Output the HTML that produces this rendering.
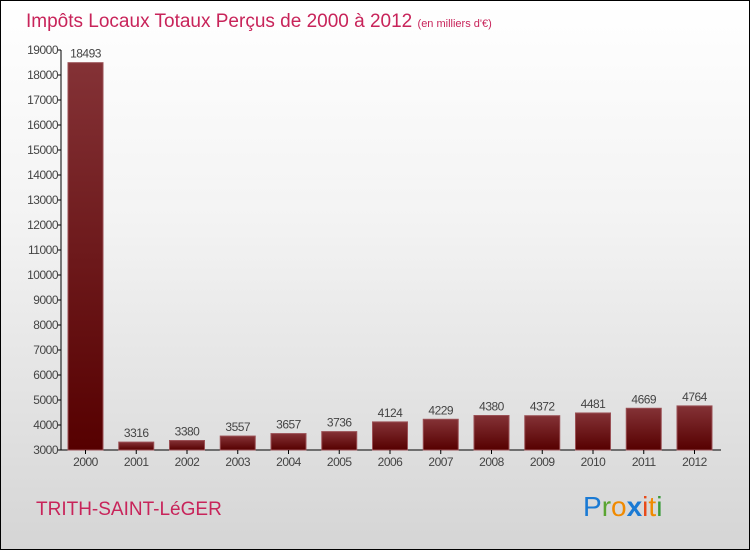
<!DOCTYPE html>
<html><head><meta charset="utf-8"><style>
body{margin:0}
#c{position:relative;width:748px;height:548px;border:1px solid #000;background:linear-gradient(#fff 0%,#f3f3f3 40%,#d5d5d5 100%);overflow:hidden;font-family:"Liberation Sans",sans-serif}
</style></head><body>
<div id="c">
<svg width="748" height="548" style="position:absolute;left:0;top:0" id="svg">
<defs><linearGradient id="bg" x1="0" y1="0" x2="0" y2="1"><stop offset="0" stop-color="#843236"/><stop offset="1" stop-color="#560000"/></linearGradient></defs>
<text x="25" y="26" font-size="19" fill="#c8245a">Impôts Locaux Totaux Perçus de 2000 à 2012 <tspan font-size="11">(en milliers d'€)</tspan></text>
<text x="35" y="514" font-size="19" fill="#c8245a">TRITH-SAINT-LéGER</text>
<text x="582" y="515" font-size="28"><tspan fill="#1a7ad4">P</tspan><tspan fill="#5aa531">r</tspan><tspan fill="#f08a00">o</tspan><tspan fill="#1a7ad4" font-weight="bold">x</tspan><tspan fill="#e84a1a">i</tspan><tspan fill="#f08a00">t</tspan><tspan fill="#3a9a3a">i</tspan></text>
<g id="g"></g>
</svg>
</div>
<script>
const years=["2000","2001","2002","2003","2004","2005","2006","2007","2008","2009","2010","2011","2012"];
const values=[18493,3316,3380,3557,3657,3736,4124,4229,4380,4372,4481,4669,4764];
const ticks=[3000,4000,5000,6000,7000,8000,9000,10000,11000,12000,13000,14000,15000,16000,17000,18000,19000];
const g=document.getElementById('g');const NS="http://www.w3.org/2000/svg";
const y=v=>449-(v-3000)*25/1000;
const x=i=>84.5+i*50.75;
function mk(t,a){const e=document.createElementNS(NS,t);for(const k in a)e.setAttribute(k,a[k]);g.appendChild(e);return e;}
let e=mk('line',{x1:60,y1:49,x2:60,y2:449,stroke:'#000'});


e=mk('line',{x1:60,y1:449,x2:720,y2:449,stroke:'#000'});


ticks.forEach(t=>{
 let l=mk('line',{x1:56,x2:60,y1:y(t),y2:y(t),stroke:'#000'});
 
 
 let tx=mk('text',{x:57,y:y(t)+4,'font-size':12,'text-anchor':'end',fill:'#444','letter-spacing':'-0.5'});tx.textContent=t;
 
 
});
years.forEach((yr,i)=>{
 let b=mk('rect',{x:x(i)-17.5,y:y(values[i]),width:35,height:449-y(values[i]),fill:'url(#bg)',stroke:'#9a5055','stroke-width':1});
 
 
 let v=mk('text',{x:x(i),y:y(values[i])-5,'font-size':12,'text-anchor':'middle',fill:'#444','letter-spacing':'-0.5'});v.textContent=values[i];
 
 
 let t=mk('line',{x1:x(i),x2:x(i),y1:449,y2:453,stroke:'#000'});
 
 
 let l=mk('text',{x:x(i),y:465,'font-size':12,'text-anchor':'middle',fill:'#444','letter-spacing':'-0.5'});l.textContent=yr;
 
 
});
</script>
</body></html>
